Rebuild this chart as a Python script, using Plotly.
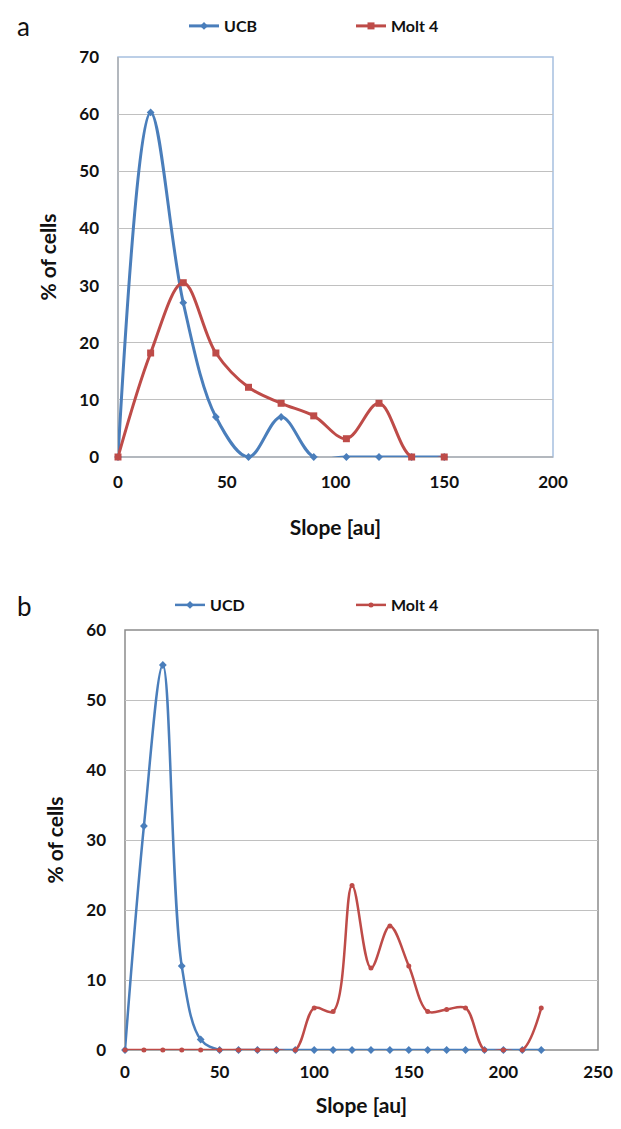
import plotly.graph_objects as go

# ---- Data: panel a ----
slope_a = [0, 15, 30, 45, 60, 75, 90, 105, 120, 135, 150]
ucb = [0, 60.3, 27, 7, 0, 7, 0, 0, 0, 0, 0]
molt4_a = [0, 18.2, 30.5, 18.2, 12.2, 9.4, 7.2, 3.2, 9.4, 0, 0]

# ---- Data: panel b ----
slope_b = [0, 10, 20, 30, 40, 50, 60, 70, 80, 90, 100, 110, 120, 130, 140,
           150, 160, 170, 180, 190, 200, 210, 220]
ucd = [0, 32, 55, 12, 1.5, 0, 0, 0, 0, 0, 0, 0, 0, 0, 0,
       0, 0, 0, 0, 0, 0, 0, 0]
molt4_b = [0, 0, 0, 0, 0, 0, 0, 0, 0, 0, 6, 5.5, 23.5, 11.7, 17.7,
           12, 5.5, 5.8, 6, 0, 0, 0, 6]

x_ticks_a = [0, 50, 100, 150, 200]
y_ticks_a = [0, 10, 20, 30, 40, 50, 60, 70]
x_ticks_b = [0, 50, 100, 150, 200, 250]
y_ticks_b = [0, 10, 20, 30, 40, 50, 60]

BLUE = "#4a7ebb"
RED = "#be4b48"
FONT = "Lato"
OFF = 8                      # page body margin
W, H = 621 - 2 * OFF, 1129 - 2 * OFF


def fx(px):
    return (px - OFF) / W


def fy(py):
    return 1 - (py - OFF) / H


fig = go.Figure()

fig.add_trace(go.Scatter(
    x=slope_a, y=ucb, name="UCB", mode="lines+markers",
    line=dict(color=BLUE, width=3, shape="spline", smoothing=1),
    marker=dict(symbol="diamond", size=6, color=BLUE),
    xaxis="x", yaxis="y", legend="legend", cliponaxis=False))
fig.add_trace(go.Scatter(
    x=slope_a, y=molt4_a, name="Molt 4", mode="lines+markers",
    line=dict(color=RED, width=3, shape="spline", smoothing=1),
    marker=dict(symbol="square", size=7, color=RED),
    xaxis="x", yaxis="y", legend="legend", cliponaxis=False))

fig.add_trace(go.Scatter(
    x=slope_b, y=ucd, name="UCD", mode="lines+markers",
    line=dict(color=BLUE, width=2.5, shape="spline", smoothing=1),
    marker=dict(symbol="diamond", size=6, color=BLUE),
    xaxis="x2", yaxis="y2", legend="legend2", cliponaxis=False))
fig.add_trace(go.Scatter(
    x=slope_b, y=molt4_b, name="Molt 4", mode="lines+markers",
    line=dict(color=RED, width=2.5, shape="spline", smoothing=1),
    marker=dict(symbol="circle", size=5, color=RED),
    xaxis="x2", yaxis="y2", legend="legend2", cliponaxis=False))

tickfont = dict(family=FONT, size=17, color="#111111", weight="bold")
titlefont = dict(family=FONT, size=21, color="#111111", weight="bold")
GRID = "#c0c0c0"


def xa(dom, rng, ticks, anchor, lab_gap, title_gap):
    return dict(domain=dom, range=rng, tickvals=ticks, showgrid=False,
                zeroline=False, showline=False, ticks="", tickfont=tickfont,
                ticklabelstandoff=lab_gap, ticklabeloverflow="allow",
                anchor=anchor, automargin=False, fixedrange=True,
                title=dict(text="Slope [au]", font=titlefont, standoff=title_gap))


def ya(dom, rng, ticks, anchor):
    return dict(domain=dom, range=rng, tickvals=ticks, showgrid=True,
                gridcolor=GRID, gridwidth=1, zeroline=False, showline=False,
                ticks="", tickfont=tickfont, ticklabelstandoff=18,
                anchor=anchor, automargin=False, fixedrange=True,
                title=dict(text="% of cells", font=titlefont, standoff=16))


xdom_a = [fx(118), fx(553)]
ydom_a = [fy(457), fy(57)]
xdom_b = [fx(125), fx(598)]
ydom_b = [fy(1050), fy(630)]

legfont = dict(family=FONT, size=16, color="#111111", weight="bold")

fig.update_layout(
    width=W, height=H,
    margin=dict(l=0, r=0, t=0, b=0),
    paper_bgcolor="white", plot_bgcolor="white",
    font=dict(family=FONT, color="#111111"),
    xaxis=xa(xdom_a, [0, 200], x_ticks_a, "y", 13, 29),
    yaxis=ya(ydom_a, [0, 70], y_ticks_a, "x"),
    xaxis2=xa(xdom_b, [0, 250], x_ticks_b, "y2", 10, 17),
    yaxis2=ya(ydom_b, [0, 60], y_ticks_b, "x2"),
    legend=dict(orientation="h", x=fx(184), y=fy(9),
                xanchor="left", yanchor="top", font=legfont,
                itemwidth=30, entrywidth=122, bgcolor="rgba(0,0,0,0)"),
    legend2=dict(orientation="h", x=fx(170), y=fy(588),
                 xanchor="left", yanchor="top", font=legfont,
                 itemwidth=30, entrywidth=136, bgcolor="rgba(0,0,0,0)"),
    shapes=[
        # panel a plot-area border (light blue top/right), gray left/bottom
        dict(type="rect", xref="x domain", yref="y domain", x0=0, x1=1, y0=0, y1=1,
             line=dict(color="#a7c0e0", width=1.5), layer="below"),
        dict(type="line", xref="x domain", yref="y domain", x0=0, x1=0, y0=0, y1=1,
             line=dict(color="#b0b0b0", width=1.5), layer="below"),
        dict(type="line", xref="x domain", yref="y domain", x0=0, x1=1, y0=0, y1=0,
             line=dict(color="#b0b0b0", width=1.5), layer="below"),
        # panel b plot-area border (gray)
        dict(type="rect", xref="x2 domain", yref="y2 domain", x0=0, x1=1, y0=0, y1=1,
             line=dict(color="#8c8c8c", width=1.5), layer="below"),
    ],
    annotations=[
        dict(text="a", x=fx(15), y=fy(8), xref="paper", yref="paper",
             xanchor="left", yanchor="top", showarrow=False,
             font=dict(family=FONT, size=26, color="#111111")),
        dict(text="b", x=fx(15), y=fy(588), xref="paper", yref="paper",
             xanchor="left", yanchor="top", showarrow=False,
             font=dict(family=FONT, size=26, color="#111111")),
    ],
)

fig.write_html("out.html")
